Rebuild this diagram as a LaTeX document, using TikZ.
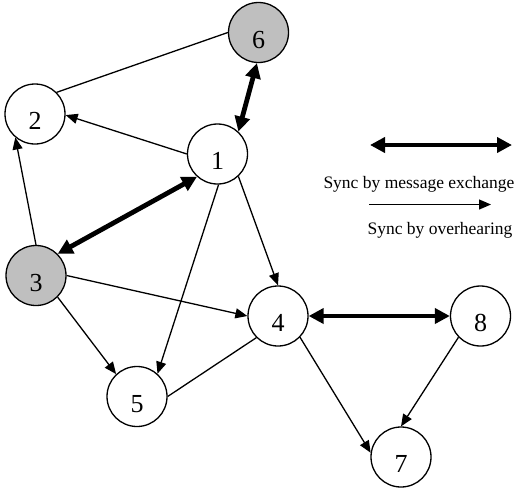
\documentclass[tikz,border=0pt]{standalone}
\usepackage{fontspec}
\setmainfont{Liberation Serif}
\usetikzlibrary{arrows.meta}
\begin{document}
\begin{tikzpicture}[x=1pt,y=-1pt,
  station/.style={circle,draw,line width=1.3pt,minimum size=60pt,inner sep=0pt,
    text height=31pt,text depth=0pt,
    fill=white,font=\fontsize{26}{26}\selectfont},
  hub/.style={station,fill=gray!50},
  hear/.style={line width=1.3pt,-{Triangle[length=12pt,width=10pt]}},
  exch/.style={line width=4.8pt,{Triangle[length=15pt,width=15pt]}-{Triangle[length=15pt,width=15pt]}},
  plain/.style={line width=1.3pt},
  legend/.style={font=\fontsize{17.5}{18}\selectfont,anchor=base}]
\useasboundingbox (0,0) rectangle (521,490);

% stations
\node[hub]     (n6) at (258.5,32.5) {6};
\node[station] (n2) at (35,114)     {2};
\node[station] (n1) at (217.5,154)  {1};
\node[hub]     (n3) at (36,275.5)   {3};
\node[station] (n4) at (278,316)    {4};
\node[station] (n5) at (137,396.5)  {5};
\node[station] (n8) at (480.5,316)  {8};
\node[station] (n7) at (401,457)    {7};

% links without synchronisation
\draw[plain] (n6.180) -- (n2.45);
\draw[plain] (n4.225) -- (n5.0);

% sync by overhearing
\draw[hear] (n1.180) -- (n2.-2);
\draw[hear] (n3.90)  -- (n2.230);
\draw[hear] (n1.-88) -- (n5.48);
\draw[hear] (n1.-47) -- (n4.90);
\draw[hear] (n3.0)   -- (n4.180);
\draw[hear] (n3.-45) -- (n5.133);
\draw[hear] (n4.-44) -- (n7.172);
\draw[hear] (n8.224) -- (n7.90);

% sync by message exchange
\draw[exch] (n6.-93) -- (n1.47);
\draw[exch] (n3.45)  -- (n1.228);
\draw[exch] (n4.0)   -- (n8.180);

% legend
\coordinate (la) at (370,145);
\coordinate (lb) at (512,145);
\coordinate (lc) at (369,204.5);
\coordinate (ld) at (491,204.5);
\draw[exch] (la) -- (lb);
\draw[hear] (lc) -- (ld);
\node[legend] (t1) at (419,188) {Sync by message exchange};
\node[legend] (t2) at (440,234) {Sync by overhearing};
\end{tikzpicture}
\end{document}
